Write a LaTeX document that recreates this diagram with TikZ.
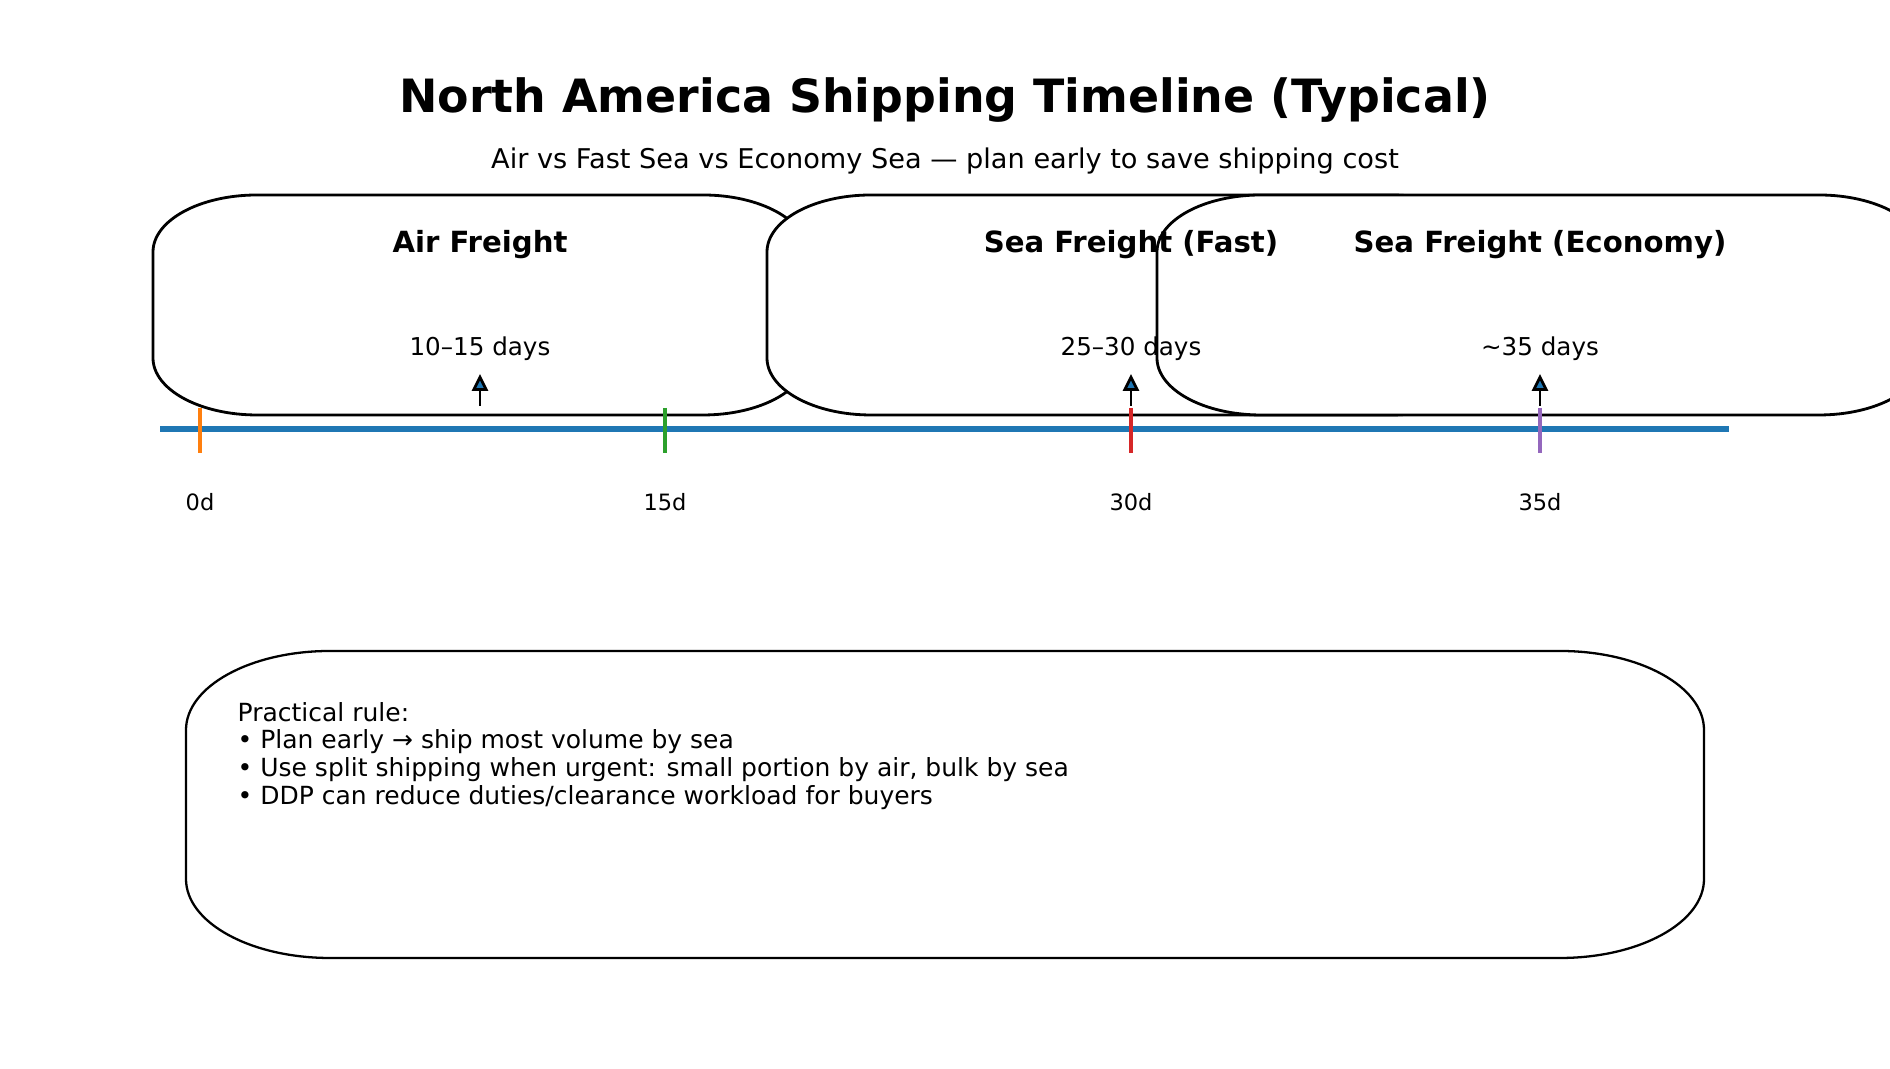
\documentclass[tikz,border=0pt]{standalone}
\usepackage{fontspec}
\setmainfont{DejaVu Sans}
\usepackage{xcolor}
\usetikzlibrary{arrows.meta}

\definecolor{tlblue}{HTML}{1F77B4}
\definecolor{tlorange}{HTML}{FF7F0E}
\definecolor{tlgreen}{HTML}{2CA02C}
\definecolor{tlred}{HTML}{D62728}
\definecolor{tlpurple}{HTML}{9467BD}

% outline with oval corners round a named (empty) node
\newcommand{\ovaledge}[4][]{%
  \filldraw[boxline,#1] ([xshift=#3]#2.south west) -- ([xshift=-#3]#2.south east)
    arc[start angle=-90, end angle=0, x radius=#3, y radius=#4]
    -- ([yshift=-#4]#2.north east)
    arc[start angle=0, end angle=90, x radius=#3, y radius=#4]
    -- ([xshift=#3]#2.north west)
    arc[start angle=90, end angle=180, x radius=#3, y radius=#4]
    -- ([yshift=#4]#2.south west)
    arc[start angle=180, end angle=270, x radius=#3, y radius=#4]
    -- cycle;}

\begin{document}
\begin{tikzpicture}[
    boxarea/.style={inner sep=0pt, outer sep=0pt},
    boxline/.style={draw=black, fill=white, line width=0.8pt},
    headtext/.style={font=\bfseries\fontsize{8.3}{10}\selectfont, anchor=base, inner sep=0pt},
    daytext/.style={font=\fontsize{7.0}{9}\selectfont, anchor=base, inner sep=0pt},
    ticktext/.style={font=\fontsize{6.4}{8}\selectfont, anchor=base, inner sep=0pt},
    tickmark/.style={line width=1.1pt},
    uparrow/.style={line width=0.8pt, -{Triangle[length=0.17cm, width=0.16cm, fill=tlblue]}}
  ]
    \useasboundingbox (0, 0) rectangle (18.90, 10.69);
    \clip (0, 0) rectangle (18.90, 10.69);

    \node[font=\bfseries\fontsize{13.05}{16}\selectfont, anchor=base, inner sep=0pt](title) at (9.45, 9.56) {North America Shipping Timeline (Typical)};
    \node[font=\fontsize{7.73}{9}\selectfont, anchor=base, inner sep=0pt](subtitle) at (9.45, 9.00) {Air vs Fast Sea vs Economy Sea — plan early to save shipping cost};

    % freight boxes
    \node[boxarea, minimum width=6.54cm, minimum height=2.20cm](air) at (4.80, 7.64) {};
    \node[boxarea, minimum width=7.28cm, minimum height=2.20cm](fast) at (11.31, 7.64) {};
    \node[boxarea, minimum width=7.66cm, minimum height=2.20cm](eco) at (15.40, 7.64) {};
    \ovaledge{air}{1.04cm}{0.57cm}
    \ovaledge{fast}{1.04cm}{0.57cm}
    \ovaledge{eco}{1.04cm}{0.57cm}

    \node[headtext](air-name) at (4.80, 8.16) {Air Freight};
    \node[headtext](fast-name) at (11.31, 8.16) {Sea Freight (Fast)};
    \node[headtext](eco-name) at (15.40, 8.16) {Sea Freight (Economy)};
    \node[daytext](air-days) at (4.80, 7.13) {10–15 days};
    \node[daytext](fast-days) at (11.31, 7.13) {25–30 days};
    \node[daytext](eco-days) at (15.40, 7.13) {\textasciitilde35 days};

    % timeline
    \coordinate(line-start) at (1.60, 6.40);
    \coordinate(line-end) at (17.29, 6.40);
    \draw[tlblue, line width=1.7pt] (line-start)--(line-end);

    \coordinate(d0-top) at (2.00, 6.61);
    \coordinate(d0-bot) at (2.00, 6.16);
    \coordinate(d15-top) at (6.65, 6.61);
    \coordinate(d15-bot) at (6.65, 6.16);
    \coordinate(d30-top) at (11.31, 6.61);
    \coordinate(d30-bot) at (11.31, 6.16);
    \coordinate(d35-top) at (15.40, 6.61);
    \coordinate(d35-bot) at (15.40, 6.16);
    \draw[tickmark, tlorange] (d0-top)--(d0-bot);
    \draw[tickmark, tlgreen] (d15-top)--(d15-bot);
    \draw[tickmark, tlred] (d30-top)--(d30-bot);
    \draw[tickmark, tlpurple] (d35-top)--(d35-bot);

    \node[ticktext](d0) at (2.00, 5.58) {0d};
    \node[ticktext](d15) at (6.65, 5.58) {15d};
    \node[ticktext](d30) at (11.31, 5.58) {30d};
    \node[ticktext](d35) at (15.40, 5.58) {35d};

    % arrows up to the durations
    \coordinate(air-foot) at (4.80, 6.63);
    \coordinate(air-tip) at (4.80, 6.95);
    \coordinate(fast-foot) at (11.31, 6.63);
    \coordinate(fast-tip) at (11.31, 6.95);
    \coordinate(eco-foot) at (15.40, 6.63);
    \coordinate(eco-tip) at (15.40, 6.95);
    \draw[uparrow] (air-foot)--(air-tip);
    \draw[uparrow] (fast-foot)--(fast-tip);
    \draw[uparrow] (eco-foot)--(eco-tip);

    % rule of thumb
    \node[boxarea, minimum width=15.18cm, minimum height=3.07cm](rule) at (9.45, 2.645) {};
    \ovaledge[line width=0.65pt]{rule}{1.44cm}{0.79cm}
    \node[font=\fontsize{7.11}{7.9}\selectfont, align=left, anchor=west, inner sep=0pt](rule-text) at (2.37, 3.13)
      {Practical rule:\\• Plan early → ship most volume by sea\\• Use split shipping when urgent: small portion by air, bulk by sea\\• DDP can reduce duties/clearance workload for buyers};
  \end{tikzpicture}
\end{document}
